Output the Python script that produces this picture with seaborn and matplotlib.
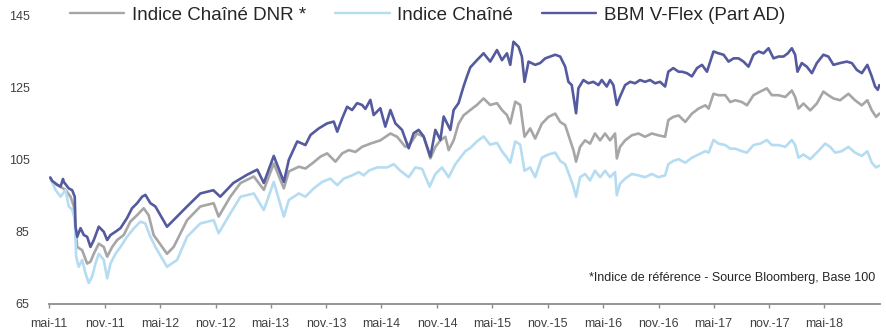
import numpy as np
import pandas as pd
import matplotlib
matplotlib.use("Agg")
import matplotlib.pyplot as plt
import seaborn as sns

# ---- data (decimal years, index level, base 100) ----
dnr_t = [2011.34, 2011.357, 2011.478, 2011.523, 2011.553, 2011.583, 2011.628, 2011.673, 2011.703, 2011.733,
         2011.778, 2011.823, 2011.854, 2011.899, 2011.944, 2012.004, 2012.064, 2012.125, 2012.184, 2012.229,
         2012.274, 2012.395, 2012.455, 2012.576, 2012.696, 2012.816, 2012.861, 2012.967, 2013.057, 2013.177,
         2013.267, 2013.357, 2013.448, 2013.493, 2013.583, 2013.643, 2013.704, 2013.779, 2013.839, 2013.914,
         2013.975, 2014.035, 2014.095, 2014.155, 2014.23, 2014.32, 2014.411, 2014.471, 2014.546, 2014.591,
         2014.652, 2014.711, 2014.772, 2014.817, 2014.862, 2014.907, 2014.937, 2014.982, 2015.027, 2015.072,
         2015.133, 2015.193, 2015.253, 2015.313, 2015.374, 2015.419, 2015.464, 2015.494, 2015.539, 2015.584,
         2015.623, 2015.674, 2015.719, 2015.779, 2015.839, 2015.9, 2015.945, 2015.99, 2016.035, 2016.065,
         2016.089, 2016.125, 2016.17, 2016.215, 2016.26, 2016.306, 2016.351, 2016.396, 2016.441, 2016.457,
         2016.486, 2016.532, 2016.592, 2016.652, 2016.712, 2016.773, 2016.832, 2016.893, 2016.922, 2016.967,
         2017.013, 2017.073, 2017.133, 2017.193, 2017.254, 2017.284, 2017.328, 2017.373, 2017.434, 2017.479,
         2017.524, 2017.585, 2017.63, 2017.689, 2017.75, 2017.81, 2017.855, 2017.915, 2017.976, 2018.036,
         2018.066, 2018.096, 2018.141, 2018.202, 2018.262, 2018.321, 2018.366, 2018.412, 2018.472, 2018.547,
         2018.607, 2018.668, 2018.718, 2018.758, 2018.797, 2018.827]
dnr_v = [100.0, 98.8, 96.6, 94.7, 92.0, 80.8, 79.9, 76.2, 76.7, 78.9,
         81.7, 80.8, 78.1, 80.8, 82.7, 84.1, 87.8, 89.6, 91.5, 89.6,
         84.1, 78.9, 80.8, 88.2, 92.0, 92.9, 89.2, 94.7, 98.5, 100.3,
         96.6, 103.9, 97.0, 101.7, 103.0, 102.5, 103.9, 105.8, 106.7, 104.4,
         106.7, 107.6, 107.1, 108.5, 109.4, 110.3, 112.2, 111.3, 108.5, 109.4,
         112.2, 111.3, 105.3, 108.5, 110.3, 111.3, 107.6, 110.3, 114.9, 117.2,
         118.7, 120.1, 121.9, 120.1, 120.6, 118.7, 117.3, 115.0, 121.0, 120.1,
         111.3, 113.6, 110.8, 114.9, 116.8, 117.7, 115.4, 114.5, 110.4, 107.6,
         104.4, 108.5, 110.3, 109.4, 112.2, 110.3, 112.2, 110.3, 112.2, 105.3,
         108.5, 110.3, 111.7, 112.2, 111.3, 112.2, 111.7, 111.3, 115.9, 116.8,
         117.2, 115.4, 117.7, 119.1, 120.0, 119.1, 123.2, 122.8, 122.8, 120.9,
         121.4, 120.9, 120.0, 122.8, 123.8, 124.7, 122.8, 122.8, 122.3, 124.1,
         122.3, 119.1, 120.5, 118.6, 120.5, 123.8, 122.8, 121.9, 121.4, 123.2,
         121.4, 120.0, 121.4, 118.6, 116.8, 117.7]

chaine_t = [2011.34, 2011.387, 2011.433, 2011.478, 2011.507, 2011.538, 2011.561, 2011.574, 2011.597, 2011.628,
            2011.658, 2011.688, 2011.718, 2011.748, 2011.778, 2011.823, 2011.854, 2011.884, 2011.929, 2011.974,
            2012.034, 2012.094, 2012.155, 2012.199, 2012.245, 2012.29, 2012.395, 2012.486, 2012.576, 2012.696,
            2012.816, 2012.861, 2012.967, 2013.057, 2013.177, 2013.267, 2013.357, 2013.448, 2013.493, 2013.583,
            2013.643, 2013.718, 2013.794, 2013.869, 2013.93, 2013.989, 2014.065, 2014.125, 2014.17, 2014.215,
            2014.291, 2014.381, 2014.441, 2014.501, 2014.576, 2014.636, 2014.697, 2014.765, 2014.817, 2014.877,
            2014.937, 2014.997, 2015.043, 2015.088, 2015.133, 2015.193, 2015.253, 2015.313, 2015.374, 2015.419,
            2015.464, 2015.494, 2015.539, 2015.584, 2015.623, 2015.674, 2015.719, 2015.779, 2015.839, 2015.9,
            2015.945, 2015.99, 2016.035, 2016.065, 2016.089, 2016.125, 2016.17, 2016.215, 2016.26, 2016.306,
            2016.351, 2016.396, 2016.441, 2016.457, 2016.486, 2016.532, 2016.592, 2016.652, 2016.712, 2016.773,
            2016.832, 2016.893, 2016.922, 2016.967, 2017.013, 2017.073, 2017.133, 2017.193, 2017.254, 2017.284,
            2017.328, 2017.373, 2017.434, 2017.479, 2017.524, 2017.585, 2017.63, 2017.689, 2017.75, 2017.81,
            2017.855, 2017.915, 2017.976, 2018.036, 2018.066, 2018.096, 2018.141, 2018.202, 2018.262, 2018.337,
            2018.382, 2018.427, 2018.487, 2018.547, 2018.607, 2018.668, 2018.718, 2018.758, 2018.797, 2018.827]
chaine_v = [100.0, 96.6, 94.7, 96.6, 92.0, 91.1, 88.4, 78.1, 75.3, 77.2,
            73.5, 70.8, 72.6, 76.2, 78.9, 77.2, 72.1, 76.2, 78.9, 80.8,
            83.6, 85.9, 87.8, 87.3, 83.6, 80.8, 75.3, 77.2, 83.6, 87.3,
            88.2, 84.6, 90.1, 94.7, 95.6, 91.0, 98.8, 89.2, 93.8, 95.6,
            94.7, 97.0, 98.8, 99.7, 97.9, 99.7, 100.6, 101.5, 100.6, 101.9,
            102.8, 102.8, 103.7, 101.9, 100.1, 102.8, 102.4, 97.5, 101.0, 102.8,
            100.1, 103.7, 105.5, 107.3, 108.2, 110.0, 111.4, 109.1, 109.6, 107.3,
            105.5, 104.1, 110.0, 109.1, 101.9, 102.8, 100.1, 105.5, 106.4, 106.9,
            104.6, 103.7, 100.1, 97.5, 94.7, 100.1, 101.0, 99.2, 101.9, 100.1,
            101.9, 100.1, 101.5, 95.1, 98.3, 99.7, 101.0, 100.6, 100.1, 101.0,
            100.1, 100.6, 103.7, 104.6, 105.1, 104.1, 105.5, 106.4, 107.3, 106.9,
            110.4, 109.4, 109.0, 108.0, 108.0, 107.3, 106.9, 109.0, 109.4, 110.4,
            109.0, 109.0, 108.5, 110.4, 109.0, 105.5, 106.4, 105.1, 106.9, 109.4,
            108.5, 106.9, 107.3, 108.5, 106.9, 106.0, 107.3, 104.1, 102.8, 103.3]

bbm_t = [2011.34, 2011.357, 2011.403, 2011.433, 2011.455, 2011.462, 2011.507, 2011.538, 2011.561, 2011.568,
         2011.583, 2011.613, 2011.643, 2011.673, 2011.703, 2011.733, 2011.778, 2011.823, 2011.854, 2011.884,
         2011.929, 2011.974, 2012.034, 2012.079, 2012.125, 2012.17, 2012.2, 2012.245, 2012.29, 2012.395,
         2012.576, 2012.696, 2012.813, 2012.876, 2012.994, 2013.117, 2013.208, 2013.267, 2013.357, 2013.448,
         2013.493, 2013.569, 2013.643, 2013.689, 2013.763, 2013.839, 2013.899, 2013.93, 2013.975, 2014.02,
         2014.065, 2014.11, 2014.155, 2014.185, 2014.23, 2014.26, 2014.32, 2014.365, 2014.411, 2014.456,
         2014.516, 2014.576, 2014.621, 2014.666, 2014.711, 2014.772, 2014.817, 2014.862, 2014.892, 2014.952,
         2014.982, 2015.027, 2015.072, 2015.103, 2015.133, 2015.193, 2015.253, 2015.313, 2015.374, 2015.419,
         2015.464, 2015.494, 2015.523, 2015.569, 2015.599, 2015.623, 2015.659, 2015.719, 2015.764, 2015.81,
         2015.855, 2015.9, 2015.945, 2015.99, 2016.02, 2016.05, 2016.089, 2016.11, 2016.155, 2016.2,
         2016.245, 2016.291, 2016.321, 2016.366, 2016.396, 2016.426, 2016.457, 2016.486, 2016.532, 2016.577,
         2016.622, 2016.667, 2016.712, 2016.757, 2016.802, 2016.847, 2016.893, 2016.922, 2016.967, 2017.013,
         2017.043, 2017.088, 2017.133, 2017.179, 2017.224, 2017.269, 2017.328, 2017.373, 2017.419, 2017.464,
         2017.509, 2017.554, 2017.599, 2017.644, 2017.689, 2017.735, 2017.78, 2017.825, 2017.87, 2017.915,
         2017.96, 2018.0, 2018.036, 2018.066, 2018.087, 2018.126, 2018.171, 2018.217, 2018.262, 2018.321,
         2018.366, 2018.412, 2018.472, 2018.532, 2018.578, 2018.623, 2018.668, 2018.718, 2018.758, 2018.788,
         2018.812, 2018.827]
bbm_v = [100.0, 99.1, 98.0, 97.5, 99.6, 98.8, 97.0, 96.5, 94.7, 86.4,
         83.6, 86.0, 84.1, 83.6, 80.8, 82.7, 86.4, 85.0, 82.7, 84.1,
         85.0, 86.0, 88.8, 91.5, 92.9, 94.7, 95.2, 92.9, 92.0, 86.4,
         92.0, 95.6, 96.5, 94.7, 98.5, 100.8, 102.2, 98.5, 106.0, 98.8,
         104.9, 110.0, 109.0, 111.8, 113.6, 115.0, 115.5, 112.7, 116.4, 119.6,
         118.7, 120.6, 120.1, 119.0, 121.5, 117.3, 119.2, 114.1, 118.7, 115.0,
         113.2, 108.1, 112.3, 113.2, 111.4, 105.8, 113.2, 110.4, 116.9, 113.2,
         118.7, 120.6, 125.2, 128.0, 130.5, 132.5, 134.4, 132.1, 135.3, 132.5,
         134.4, 131.2, 137.6, 136.2, 133.5, 126.5, 132.1, 131.2, 131.7, 133.0,
         133.5, 134.0, 133.5, 130.7, 126.5, 125.6, 117.8, 124.7, 127.0, 126.1,
         126.5, 125.6, 127.0, 125.2, 127.0, 125.6, 120.1, 122.4, 125.6, 126.5,
         126.1, 127.0, 126.5, 127.0, 126.1, 126.5, 125.2, 129.3, 130.3, 129.3,
         129.3, 128.9, 128.0, 130.3, 131.2, 129.3, 134.9, 134.4, 134.0, 132.1,
         133.0, 133.0, 132.1, 130.7, 134.0, 134.9, 134.4, 135.8, 133.0, 133.5,
         133.5, 134.4, 135.8, 134.0, 129.3, 131.7, 130.7, 128.9, 131.7, 134.0,
         133.5, 131.2, 131.7, 132.1, 131.7, 129.8, 128.9, 131.2, 128.0, 125.2,
         124.3, 125.6]

series_names = ["Indice Chaîné DNR *", "Indice Chaîné", "BBM V-Flex (Part AD)"]
series_colors = ["#A6A6A6", "#B5DCF1", "#555A9F"]

tick_dates = ["2011-05-01", "2011-11-01", "2012-05-01", "2012-11-01", "2013-05-01",
              "2013-11-01", "2014-05-01", "2014-11-01", "2015-05-01", "2015-11-01",
              "2016-05-01", "2016-11-01", "2017-05-01", "2017-11-01", "2018-05-01"]
tick_labels = ["mai-11", "nov.-11", "mai-12", "nov.-12", "mai-13", "nov.-13", "mai-14",
               "nov.-14", "mai-15", "nov.-15", "mai-16", "nov.-16", "mai-17", "nov.-17", "mai-18"]
y_ticks = [65, 85, 105, 125, 145]


def to_dates(years):
    out = []
    for y in years:
        yr = int(y)
        out.append(pd.Timestamp(year=yr, month=1, day=1) + pd.Timedelta(days=(y - yr) * 365.25))
    return out


frames = []
for name, t, v in zip(series_names, [dnr_t, chaine_t, bbm_t], [dnr_v, chaine_v, bbm_v]):
    frames.append(pd.DataFrame({"date": to_dates(t), "value": v, "series": name}))
df = pd.concat(frames, ignore_index=True)

sns.set_theme(style="white")
plt.rcParams["font.family"] = ["Liberation Sans", "DejaVu Sans"]

fig = plt.figure(figsize=(8.87, 3.34), dpi=100)
ax = fig.add_axes([49 / 887, 30 / 334, (880 - 49) / 887, (304 - 15) / 334])

sns.lineplot(data=df, x="date", y="value", hue="series", hue_order=series_names,
             palette=series_colors, linewidth=1.9, estimator=None, sort=False, ax=ax)

handles, labels = ax.get_legend_handles_labels()
ax.get_legend().remove()
fig.legend(handles, labels, loc="center left", bbox_to_anchor=(70 / 887, 1 - 15 / 334),
           ncol=3, frameon=False, fontsize=13.5, handlelength=2.9, handletextpad=0.4,
           columnspacing=1.55, borderpad=0, borderaxespad=0)
for h in fig.legends[0].get_lines():
    h.set_linewidth(1.7)

ax.set_xlim(pd.Timestamp("2011-05-01"), pd.Timestamp("2018-11-01"))
ax.set_ylim(65, 145)
ax.set_xticks(pd.to_datetime(tick_dates))
ax.set_xticklabels(tick_labels)
ax.set_yticks(y_ticks)
ax.set_yticklabels([str(v) for v in y_ticks])
ax.set_xlabel("")
ax.set_ylabel("")

for side in ["top", "right", "left"]:
    ax.spines[side].set_visible(False)
ax.spines["bottom"].set_color("#8C8C8C")
ax.spines["bottom"].set_linewidth(1.3)
ax.tick_params(axis="x", direction="out", length=3, width=1, color="#8C8C8C",
               pad=7, labelsize=9, labelcolor="#404040", bottom=True)
ax.tick_params(axis="y", length=0, pad=14, labelsize=9, labelcolor="#404040")

ax.text(0.994, 0.09, "*Indice de référence - Source Bloomberg, Base 100",
        transform=ax.transAxes, ha="right", va="center", fontsize=9, color="#262626")

fig.savefig("out.png", dpi=100)
